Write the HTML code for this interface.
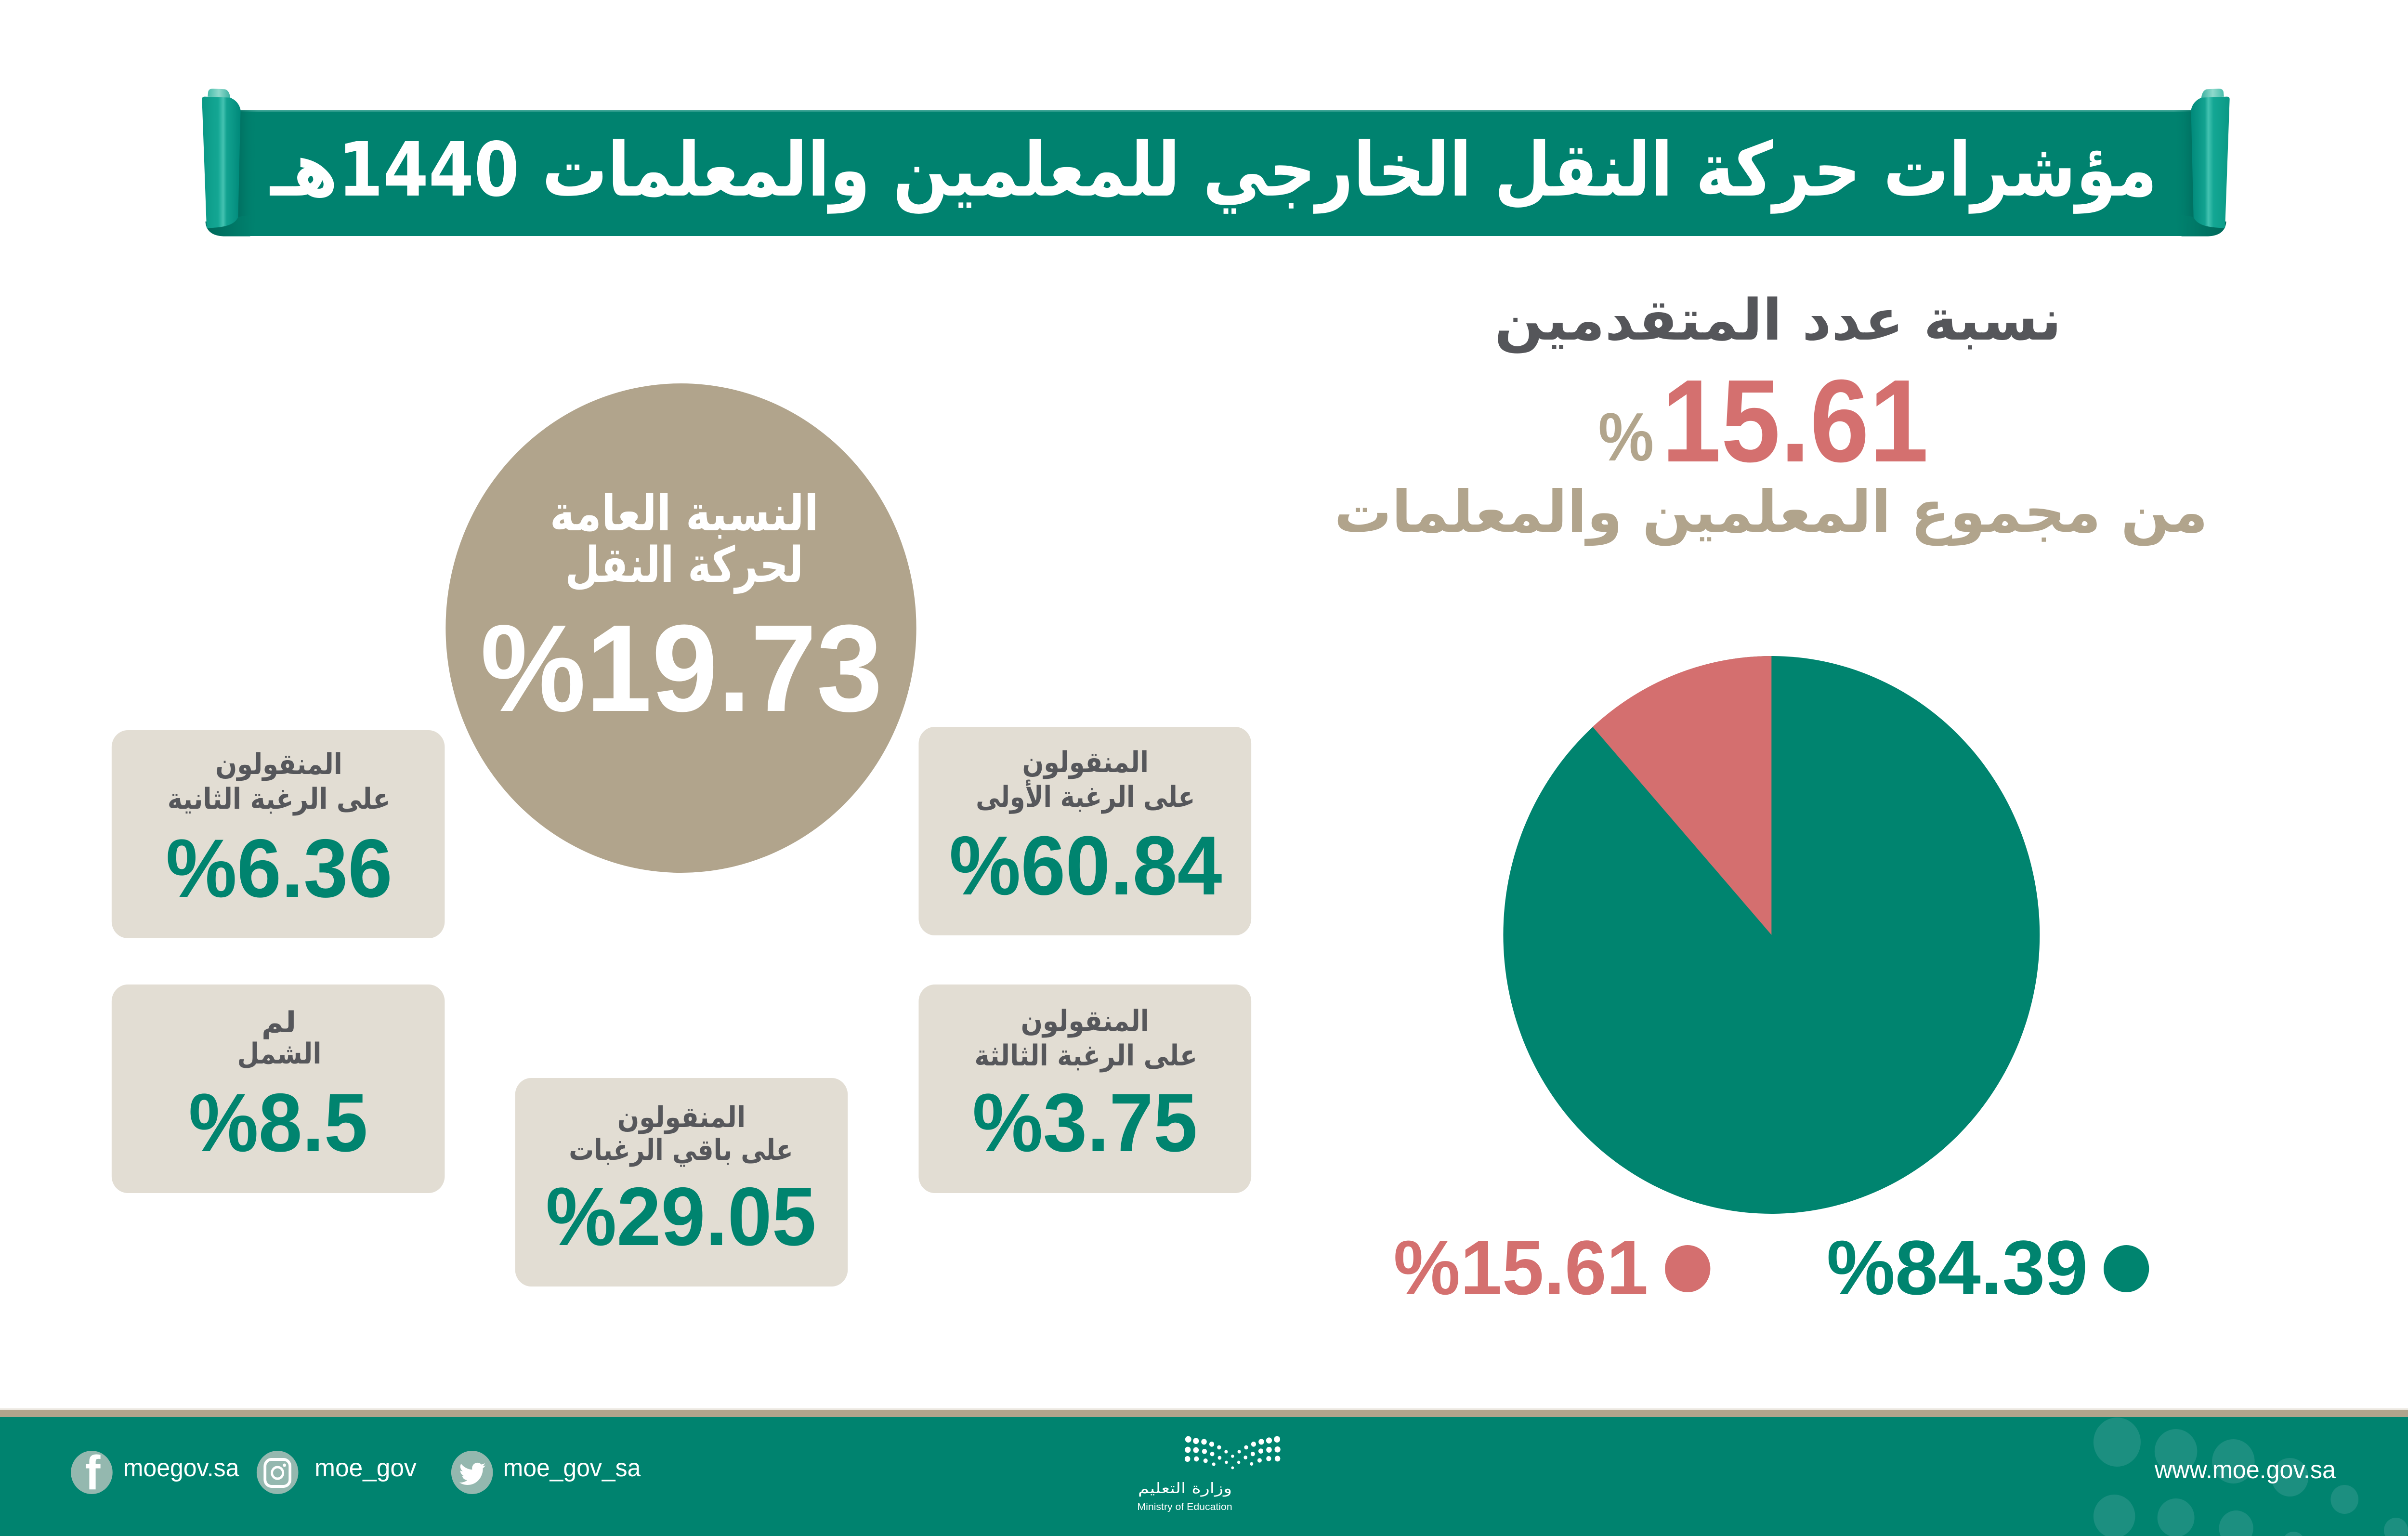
<!DOCTYPE html>
<html>
<head>
<meta charset="utf-8">
<style>
html,body{margin:0;padding:0;background:#ffffff;overflow:hidden;width:100%;height:100%;}
svg{display:block;width:100vw;height:100vh;}
.ar{font-family:"DejaVu Sans",sans-serif;font-weight:bold;}
.num{font-family:"Liberation Sans",sans-serif;font-weight:bold;}
.lat{font-family:"Liberation Sans",sans-serif;}
</style>
</head>
<body>
<svg viewBox="0 0 5198 3189" preserveAspectRatio="none" xmlns="http://www.w3.org/2000/svg">
<defs>
  <linearGradient id="panel" gradientUnits="userSpaceOnUse" x1="108" y1="0" x2="358" y2="0">
    <stop offset="0" stop-color="#0a9885"/>
    <stop offset="0.42" stop-color="#14a794"/>
    <stop offset="0.55" stop-color="#44c2b1"/>
    <stop offset="0.64" stop-color="#12a290"/>
    <stop offset="1" stop-color="#00897a"/>
  </linearGradient>
  <linearGradient id="cap" gradientUnits="userSpaceOnUse" x1="145" y1="0" x2="290" y2="0">
    <stop offset="0" stop-color="#47bcaa"/>
    <stop offset="0.5" stop-color="#8fd9cc"/>
    <stop offset="1" stop-color="#3fb2a2"/>
  </linearGradient>
  <linearGradient id="curl" gradientUnits="userSpaceOnUse" x1="130" y1="0" x2="420" y2="0">
    <stop offset="0" stop-color="#00685a"/>
    <stop offset="1" stop-color="#00806d"/>
  </linearGradient>
  <linearGradient id="shade" gradientUnits="userSpaceOnUse" x1="340" y1="0" x2="470" y2="0">
    <stop offset="0" stop-color="#006f60"/>
    <stop offset="1" stop-color="#00826f" stop-opacity="0"/>
  </linearGradient>
  <g id="roll">
    <rect x="340" y="207" width="130" height="783" fill="url(#shade)"/>
    <path d="M130,900 C135,970 190,992 260,992 L420,992 L420,860 Z" fill="url(#curl)"/>
    <path d="M145,122 L148,92 Q152,72 180,72 L258,76 Q286,84 292,132 Z" fill="url(#cap)"/>
    <path d="M108,138 Q108,122 126,122 L290,128 Q346,150 358,205 L342,872 Q318,930 190,938 L138,942 Z" fill="url(#panel)"/>
  </g>
</defs>

<rect x="0" y="0" width="5198" height="3189" fill="#ffffff"/>

<!-- ===== Title banner ===== -->
<rect x="505" y="229" width="4240" height="261" fill="#00826f"/>
<rect x="505" y="229" width="4240" height="3" fill="#2a9a8a"/>
<g transform="translate(400,160) scale(0.33333)"><use href="#roll"/></g>
<g transform="translate(5249,0) scale(-1,1)"><g transform="translate(400,160) scale(0.33333)"><use href="#roll"/></g></g>
<text class="ar" x="2620" y="406" font-size="155" fill="#ffffff" text-anchor="middle" textLength="4073" lengthAdjust="spacingAndGlyphs">مؤشرات حركة النقل الخارجي للمعلمين والمعلمات 1440هـ</text>

<!-- ===== Right header ===== -->
<text class="ar" x="3838" y="705" font-size="118" fill="#55565a" text-anchor="middle" textLength="1224" lengthAdjust="spacingAndGlyphs">نسبة عدد المتقدمين</text>
<text class="num" x="3587" y="958" font-size="244" fill="#d4706f" textLength="576" lengthAdjust="spacingAndGlyphs">15.61</text>
<text class="num" x="3450" y="956" font-size="142" fill="#b2a58c" textLength="120" lengthAdjust="spacingAndGlyphs">%</text>
<text class="ar" x="3823" y="1104" font-size="120" fill="#b1a48c" text-anchor="middle" textLength="1886" lengthAdjust="spacingAndGlyphs">من مجموع المعلمين والمعلمات</text>

<!-- ===== Pie ===== -->
<circle cx="3824" cy="1941" r="579" fill="#00846f"/>
<path d="M3824,1941 L3824,1362 A579,579 0 0 0 3438,1509 Z" fill="#d46f6f"/>

<!-- Legend -->
<text class="num" x="3008" y="2687" font-size="160" fill="#d4706f" textLength="550" lengthAdjust="spacingAndGlyphs">%15.61</text>
<circle cx="3643" cy="2634" r="49" fill="#d46f6f"/>
<text class="num" x="3943" y="2687" font-size="160" fill="#00846f" textLength="564" lengthAdjust="spacingAndGlyphs">%84.39</text>
<circle cx="4590" cy="2634" r="49" fill="#00846f"/>

<!-- ===== Left big circle ===== -->
<circle cx="1470" cy="1304" r="508" fill="#b1a48c"/>
<text class="ar" x="1477" y="1101" font-size="102" fill="#ffffff" text-anchor="middle" textLength="580" lengthAdjust="spacingAndGlyphs">النسبة العامة</text>
<text class="ar" x="1477" y="1208" font-size="102" fill="#ffffff" text-anchor="middle" textLength="514" lengthAdjust="spacingAndGlyphs">لحركة النقل</text>
<text class="num" x="1037" y="1476" font-size="257" fill="#ffffff" textLength="868" lengthAdjust="spacingAndGlyphs">%19.73</text>

<!-- ===== Boxes ===== -->
<rect x="241" y="1516" width="719" height="432" rx="35" fill="#e2ddd3"/>
<rect x="1983" y="1509" width="718" height="433" rx="35" fill="#e2ddd3"/>
<rect x="241" y="2044" width="719" height="433" rx="35" fill="#e2ddd3"/>
<rect x="1983" y="2044" width="718" height="433" rx="35" fill="#e2ddd3"/>
<rect x="1112" y="2238" width="718" height="433" rx="35" fill="#e2ddd3"/>

<!-- B1 -->
<text class="ar" x="602" y="1607" font-size="60" fill="#56575b" text-anchor="middle" textLength="274" lengthAdjust="spacingAndGlyphs">المنقولون</text>
<text class="ar" x="602" y="1679" font-size="60" fill="#56575b" text-anchor="middle" textLength="481" lengthAdjust="spacingAndGlyphs">على الرغبة الثانية</text>
<text class="num" x="358" y="1862" font-size="172" fill="#00846f" textLength="489" lengthAdjust="spacingAndGlyphs">%6.36</text>

<!-- B2 -->
<text class="ar" x="2343" y="1603" font-size="60" fill="#56575b" text-anchor="middle" textLength="273" lengthAdjust="spacingAndGlyphs">المنقولون</text>
<text class="ar" x="2343" y="1675" font-size="60" fill="#56575b" text-anchor="middle" textLength="473" lengthAdjust="spacingAndGlyphs">على الرغبة الأولى</text>
<text class="num" x="2049" y="1857" font-size="174" fill="#00846f" textLength="589" lengthAdjust="spacingAndGlyphs">%60.84</text>

<!-- B3 -->
<text class="ar" x="602" y="2143" font-size="60" fill="#56575b" text-anchor="middle" textLength="75" lengthAdjust="spacingAndGlyphs">لم</text>
<text class="ar" x="603" y="2208" font-size="60" fill="#56575b" text-anchor="middle" textLength="182" lengthAdjust="spacingAndGlyphs">الشمل</text>
<text class="num" x="407" y="2390" font-size="172" fill="#00846f" textLength="387" lengthAdjust="spacingAndGlyphs">%8.5</text>

<!-- B4 -->
<text class="ar" x="2342" y="2140" font-size="60" fill="#56575b" text-anchor="middle" textLength="277" lengthAdjust="spacingAndGlyphs">المنقولون</text>
<text class="ar" x="2344" y="2212" font-size="60" fill="#56575b" text-anchor="middle" textLength="481" lengthAdjust="spacingAndGlyphs">على الرغبة الثالثة</text>
<text class="num" x="2099" y="2390" font-size="172" fill="#00846f" textLength="486" lengthAdjust="spacingAndGlyphs">%3.75</text>

<!-- B5 -->
<text class="ar" x="1471" y="2340" font-size="60" fill="#56575b" text-anchor="middle" textLength="277" lengthAdjust="spacingAndGlyphs">المنقولون</text>
<text class="ar" x="1470" y="2408" font-size="60" fill="#56575b" text-anchor="middle" textLength="484" lengthAdjust="spacingAndGlyphs">على باقي الرغبات</text>
<text class="num" x="1178" y="2585" font-size="172" fill="#00846f" textLength="584" lengthAdjust="spacingAndGlyphs">%29.05</text>

<!-- ===== Footer ===== -->
<rect x="0" y="2924" width="5198" height="3" fill="#ece8e1"/>
<rect x="0" y="2927" width="5198" height="15" fill="#b0a48c"/>
<rect x="0" y="2942" width="5198" height="247" fill="#00836f"/>

<g fill="#1c8f80">
  <circle cx="4570" cy="2994" r="51"/>
  <circle cx="4697" cy="3013" r="46"/>
  <circle cx="4821" cy="3034" r="46"/>
  <circle cx="4943" cy="3067" r="40"/>
  <circle cx="5061" cy="3113" r="30"/>
  <circle cx="5172" cy="3177" r="26"/>
  <circle cx="4564" cy="3148" r="45"/>
  <circle cx="4697" cy="3151" r="40"/>
  <circle cx="4827" cy="3173" r="37"/>
  <circle cx="4951" cy="3205" r="25"/>
</g>

<!-- social icons -->
<circle cx="198" cy="3057" r="45" fill="#94b8af"/>
<text class="num" x="200" y="3092" font-size="100" fill="#ffffff" text-anchor="middle">f</text>
<circle cx="599" cy="3057" r="45" fill="#94b8af"/>
<rect x="572" y="3030" width="54" height="56" rx="14" fill="none" stroke="#ffffff" stroke-width="6"/>
<circle cx="599" cy="3058" r="12" fill="none" stroke="#ffffff" stroke-width="5"/>
<circle cx="614" cy="3042" r="3.5" fill="#ffffff"/>
<circle cx="1019" cy="3057" r="45" fill="#94b8af"/>
<path transform="translate(989,3030) scale(2.5)" fill="#ffffff" d="M23.643 4.937c-.835.37-1.732.62-2.675.733.962-.576 1.7-1.49 2.048-2.578-.9.534-1.897.922-2.958 1.13-.85-.904-2.06-1.47-3.4-1.47-2.572 0-4.658 2.086-4.658 4.660 0 .364.042.718.12 1.060-3.873-.195-7.304-2.050-9.602-4.868-.4.690-.63 1.490-.63 2.342 0 1.616.823 3.043 2.072 3.878-.764-.025-1.482-.234-2.110-.583v.060c0 2.257 1.605 4.140 3.737 4.568-.392.106-.803.162-1.227.162-.3 0-.593-.028-.877-.082.593 1.850 2.313 3.198 4.352 3.234-1.595 1.250-3.604 1.995-5.786 1.995-.376 0-.747-.022-1.112-.065 2.062 1.323 4.510 2.093 7.140 2.093 8.570 0 13.255-7.098 13.255-13.254 0-.2-.005-.402-.014-.602.910-.658 1.700-1.477 2.323-2.410z"/>

<text class="lat" x="266" y="3065" font-size="52" fill="#ffffff" textLength="250" lengthAdjust="spacingAndGlyphs">moegov.sa</text>
<text class="lat" x="679" y="3065" font-size="52" fill="#ffffff" textLength="220" lengthAdjust="spacingAndGlyphs">moe_gov</text>
<text class="lat" x="1086" y="3065" font-size="52" fill="#ffffff" textLength="297" lengthAdjust="spacingAndGlyphs">moe_gov_sa</text>
<text class="lat" x="4651" y="3069" font-size="52" fill="#ffffff" textLength="391" lengthAdjust="spacingAndGlyphs">www.moe.gov.sa</text>

<!-- logo -->
<g transform="translate(2400,2960) scale(0.33333)" fill="#ffffff">
  <circle cx="495" cy="85" r="20"/><circle cx="545" cy="95" r="19"/><circle cx="597" cy="100" r="18"/><circle cx="647" cy="115" r="16"/><circle cx="695" cy="135" r="13"/><circle cx="740" cy="162" r="11"/>
  <circle cx="825" cy="162" r="11"/><circle cx="870" cy="135" r="13"/><circle cx="918" cy="115" r="16"/><circle cx="968" cy="100" r="18"/><circle cx="1018" cy="92" r="19"/><circle cx="1070" cy="85" r="20"/>
  <circle cx="492" cy="150" r="19"/><circle cx="545" cy="152" r="18"/><circle cx="600" cy="160" r="16"/><circle cx="650" cy="176" r="14"/><circle cx="698" cy="200" r="12"/><circle cx="742" cy="228" r="10"/>
  <circle cx="782" cy="190" r="10"/><circle cx="822" cy="228" r="10"/><circle cx="866" cy="198" r="12"/><circle cx="913" cy="176" r="14"/><circle cx="965" cy="158" r="16"/><circle cx="1018" cy="150" r="18"/><circle cx="1073" cy="148" r="19"/>
  <circle cx="490" cy="207" r="18"/><circle cx="548" cy="207" r="16"/><circle cx="607" cy="218" r="14"/><circle cx="660" cy="240" r="11"/><circle cx="782" cy="262" r="9"/><circle cx="905" cy="238" r="11"/><circle cx="957" cy="216" r="14"/><circle cx="1016" cy="205" r="16"/><circle cx="1073" cy="205" r="18"/>
</g>
<text class="ar" x="2558" y="3100" font-size="30" fill="#ffffff" text-anchor="middle" textLength="203" lengthAdjust="spacingAndGlyphs" style="font-weight:normal">وزارة التعليم</text>
<text class="lat" x="2455" y="3135" font-size="20" fill="#ffffff" textLength="205" lengthAdjust="spacingAndGlyphs">Ministry of Education</text>
</svg>
</body>
</html>
